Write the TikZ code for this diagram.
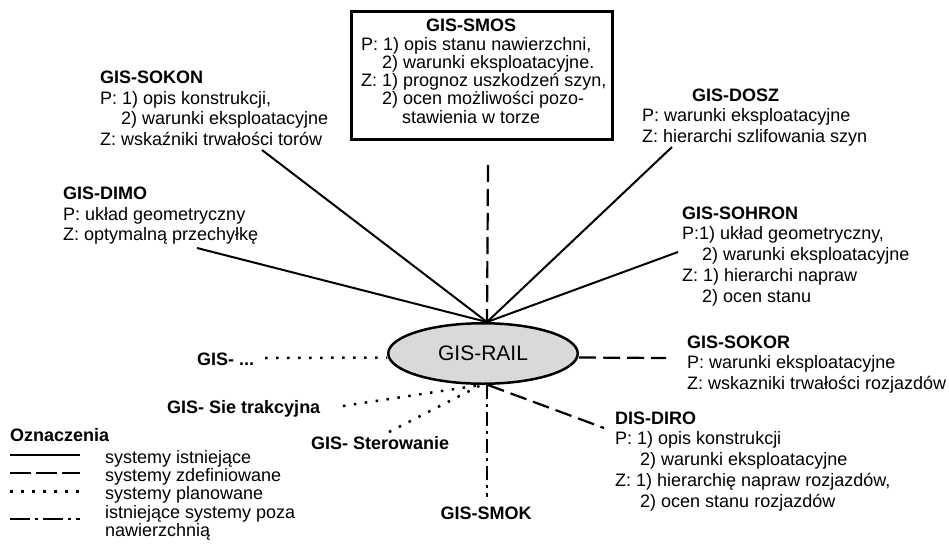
\documentclass[tikz,border=0pt]{standalone}
\usepackage{fontspec}
\setmainfont{Liberation Sans}
\usetikzlibrary{shapes.geometric}
\definecolor{railgray}{RGB}{217,217,217}
\newcommand\myTxtFont{\fontsize{18}{20.8}\selectfont\lineskiplimit=-20pt\relax}
\newcommand\myTightFont{\fontsize{18}{18.3}\selectfont\lineskiplimit=-20pt\relax}
\begin{document}
\begin{tikzpicture}[x=1pt,y=-1pt,
  txt/.style={font=\myTxtFont, align=left, inner sep=0pt, anchor=north west},
  tight/.style={font=\myTightFont, align=left, inner sep=0pt, anchor=north west},
  lbl/.style={font=\fontsize{18}{20.8}\selectfont\bfseries, inner sep=0pt, anchor=north west},
  existing/.style={line width=2pt},
  defined/.style={line width=2.2pt, dash pattern=on 17pt off 7pt},
  planned/.style={line width=2.5pt, dash pattern=on 2.5pt off 8.5pt},
  outside/.style={line width=2.2pt, dash pattern=on 14pt off 5pt on 3pt off 5pt},
]
\useasboundingbox (0,0) rectangle (949,546);

% central node
\node (rail) [ellipse, draw, line width=2.5pt, fill=railgray, minimum width=189.5pt, minimum height=60.5pt, inner sep=0pt, font=\fontsize{21}{24}\selectfont] at (483,353.5) {GIS-RAIL};
\coordinate (railtop) at ([xshift=4pt]rail.north);
\coordinate (railbot) at ([xshift=4pt]rail.south);
\coordinate (railbotl) at ([xshift=-2pt]rail.south);

% top box
\node (smos) [draw, line width=3pt, minimum width=261.5pt, minimum height=128pt, inner sep=0pt] at (482,75.5) {};
\node (smostxt) [tight] at (361,19) {\hspace*{65pt}\textbf{GIS-SMOS}\\
P: 1) opis stanu nawierzchni,\\
\hspace*{21pt}2) warunki eksploatacyjne.\\
Z: 1) prognoz uszkodzeń szyn,\\
\hspace*{21pt}2) ocen możliwości pozo-\\
\hspace*{41pt}stawienia w torze};

% systems
\node (sokon) [txt] at (100,70.5) {\textbf{GIS-SOKON}\\
P: 1) opis konstrukcji,\\
\hspace*{21pt}2) warunki eksploatacyjne\\
Z: wskaźniki trwałości torów};

\node (dimo) [txt] at (63,186.5) {\textbf{GIS-DIMO}\\
P: układ geometryczny\\
Z: optymalną przechyłkę};

\node (dosz) [txt] at (642,88.4) {\hspace*{50pt}\textbf{GIS-DOSZ}\\
P: warunki eksploatacyjne\\
Z: hierarchi szlifowania szyn};

\node (sohron) [txt] at (682,206.4) {\textbf{GIS-SOHRON}\\
P:1) układ geometryczny,\\
\hspace*{20pt}2) warunki eksploatacyjne\\
Z: 1) hierarchi napraw\\
\hspace*{20pt}2) ocen stanu};

\node (sokor) [txt] at (687,335.4) {\textbf{GIS-SOKOR}\\
P: warunki eksploatacyjne\\
Z: wskazniki trwałości rozjazdów};

\node (diro) [txt] at (615,411.4) {\textbf{DIS-DIRO}\\
P: 1) opis konstrukcji\\
\hspace*{25pt}2) warunki eksploatacyjne\\
Z: 1) hierarchię napraw rozjazdów,\\
\hspace*{25pt}2) ocen stanu rozjazdów};

\node (gisdots) [lbl] at (197,352.3) {GIS- ...};
\node (siec) [lbl] at (167,400.3) {GIS- Sie trakcyjna};
\node (sterow) [lbl] at (311,436.3) {GIS- Sterowanie};
\node (smok) [lbl, anchor=center] at (486,513) {GIS-SMOK};

% connector ends
\coordinate (sokonEnd) at (262,150);
\coordinate (dimoEnd) at (197,248);
\coordinate (doszEnd) at (672,147);
\coordinate (sohronEnd) at (678,252);
\coordinate (smosEnd) at (488,165);
\coordinate (sokorEnd) at (666,358);
\coordinate (gisdotsEnd) at (265,358);
\coordinate (siecEnd) at (343,406);
\coordinate (sterowEnd) at (389,432);
\coordinate (smokEnd) at (487,497);
\coordinate (diroEnd) at (604,428);

% connectors
\draw[existing] (sokonEnd) -- (railtop);
\draw[existing] (dimoEnd) -- (railtop);
\draw[existing] (doszEnd) -- (railtop);
\draw[existing] (sohronEnd) -- (railtop);
\draw[defined] (smosEnd) -- (railtop);
\draw[defined] ([yshift=-4pt]rail.east) -- (sokorEnd);
\draw[defined] ([xshift=1pt]railbot) -- (diroEnd);
\draw[planned] (gisdotsEnd) -- ([yshift=-4pt]rail.west);
\draw[planned] (siecEnd) -- (railbotl);
\draw[planned] (sterowEnd) -- (railbotl);
\draw[outside] (railbot) -- (smokEnd);

% legend
\node (legtitle) [lbl] at (10,428.5) {Oznaczenia};
\node (legtxt) [tight] at (105,450) {systemy istniejące\\
systemy zdefiniowane\\
systemy planowane\\
istniejące systemy poza\\
nawierzchnią};
\coordinate (l1a) at (10,455); \coordinate (l1b) at (80,455);
\coordinate (l2a) at (10,473.3); \coordinate (l2b) at (80,473.3);
\coordinate (l3a) at (10,491.7); \coordinate (l3b) at (80,491.7);
\coordinate (l4a) at (10,519); \coordinate (l4b) at (80,519);
\draw[existing] (l1a) -- (l1b);
\draw[line width=2.2pt, dash pattern=on 21pt off 5pt] (l2a) -- (l2b);
\draw[planned] (l3a) -- (l3b);
\draw[line width=2.2pt, dash pattern=on 20pt off 5pt on 3pt off 5pt] (l4a) -- (l4b);
\end{tikzpicture}
\end{document}
